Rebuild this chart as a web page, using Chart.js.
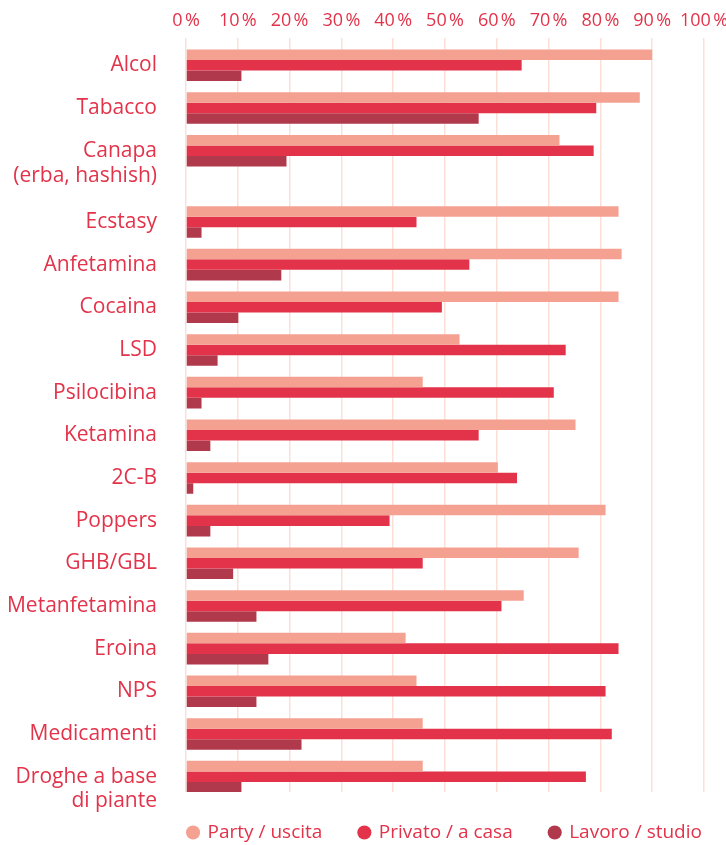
<!DOCTYPE html>
<html>
<head>
<meta charset="utf-8">
<script src="https://cdn.jsdelivr.net/npm/chart.js@4.4.1/dist/chart.umd.min.js"></script>
<style>
  html, body { margin: 0; padding: 0; background: #fff; }
  #wrap { width: 726px; height: 845px; }
</style>
</head>
<body>
<div id="wrap"><canvas id="chart"></canvas></div>
<script>
// categories (multi-line labels as arrays)
const categories = [
  ['Alcol'], ['Tabacco'], ['Canapa', '(erba, hashish)'], ['Ecstasy'], ['Anfetamina'],
  ['Cocaina'], ['LSD'], ['Psilocibina'], ['Ketamina'], ['2C-B'], ['Poppers'],
  ['GHB/GBL'], ['Metanfetamina'], ['Eroina'], ['NPS'], ['Medicamenti'],
  ['Droghe a base', 'di piante']
];
const seriesNames = ['Party / uscita', 'Privato / a casa', 'Lavoro / studio'];
const partyValues   = [90, 87.6, 72.1, 83.5, 84.1, 83.5, 52.8, 45.7, 75.2, 60.2, 81, 75.8, 65.2, 42.4, 44.5, 45.7, 45.7];
const privatoValues = [64.8, 79.2, 78.7, 44.5, 54.7, 49.4, 73.3, 71, 56.5, 63.9, 39.3, 45.7, 60.9, 83.5, 81, 82.2, 77.2];
const lavoroValues  = [10.7, 56.5, 19.4, 3, 18.4, 10.1, 6.1, 3, 4.7, 1.4, 4.7, 9.1, 13.6, 15.9, 13.6, 22.3, 10.7];
const xTicks = [0, 10, 20, 30, 40, 50, 60, 70, 80, 90, 100];

const red = '#e2334a';
const colors = ['#f4a192', '#e2334a', '#b1394c'];
const font = "'Open Sans', 'Noto Sans', sans-serif";

// rows with two-line labels take more room, like the original layout
const rowPos = [];
const labelPos = [];
let pos = 0;
categories.forEach(l => {
  rowPos.push(pos);
  labelPos.push(pos + (l.length - 1) * 0.3);
  pos += 1 + (l.length - 1) * 0.67;
});

const toPoints = vals => vals.map((v, i) => ({ x: v, y: rowPos[i] }));

// keep the legend centred under the plot area, a bit higher
const legendShift = {
  id: 'legendShift',
  afterLayout(chart) {
    const lg = chart.legend, ca = chart.chartArea;
    const dx = (ca.left + ca.right) / 2 - (lg.left + lg.right) / 2;
    lg.left += dx; lg.right += dx;
    lg.top -= 6; lg.bottom -= 6;
  }
};

new Chart(document.getElementById('chart'), {
  type: 'bar',
  data: {
    datasets: [partyValues, privatoValues, lavoroValues].map((vals, k) => ({
      label: seriesNames[k],
      data: toPoints(vals),
      backgroundColor: colors[k],
      borderWidth: 0,
      categoryPercentage: 0.74,
      barPercentage: 1
    }))
  },
  options: {
    indexAxis: 'y',
    responsive: true,
    maintainAspectRatio: false,
    animation: false,
    layout: { padding: { top: 4, bottom: -13, left: 0, right: 0 } },
    scales: {
      x: {
        position: 'top',
        min: 0,
        max: 100,
        afterBuildTicks: s => { s.ticks = xTicks.map(v => ({ value: v })); },
        afterFit: s => { s.paddingLeft = 0; s.paddingRight = 22; },
        ticks: {
          color: red,
          autoSkip: false,
          maxRotation: 0,
          minRotation: 0,
          font: { family: font, size: 18 },
          padding: 6,
          callback: v => v + '\u202f%'
        },
        grid: { color: '#fce0d8', lineWidth: 1.5, drawTicks: false },
        border: { display: false }
      },
      y: {
        type: 'linear',
        reverse: true,
        offset: false,
        min: -0.65,
        max: rowPos[rowPos.length - 1] + 0.36,
        afterBuildTicks: s => { s.ticks = labelPos.map(v => ({ value: v })); },
        afterFit: s => { s.width = 186; s.paddingTop = 0; s.paddingBottom = 0; },
        ticks: {
          autoSkip: false,
          color: red,
          font: { family: font, size: 21, lineHeight: 1.15 },
          padding: 29,
          callback: (v, i) => categories[i]
        },
        grid: { display: false, drawTicks: false },
        border: { display: false }
      }
    },
    plugins: {
      legend: {
        position: 'bottom',
        labels: {
          usePointStyle: true,
          pointStyle: 'circle',
          boxWidth: 10,
          boxHeight: 10,
          padding: 37,
          color: red,
          font: { family: font, size: 19 }
        }
      },
      tooltip: { enabled: false }
    }
  },
  plugins: [legendShift]
});
</script>
</body>
</html>
